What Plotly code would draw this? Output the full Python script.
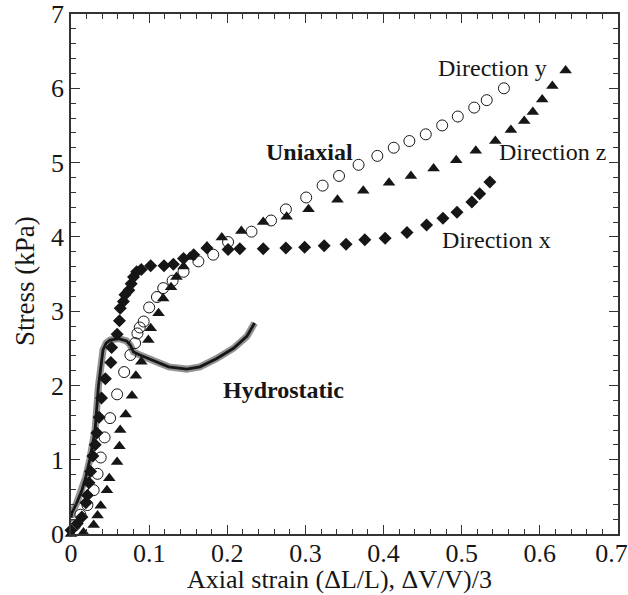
import plotly.graph_objects as go

# Direction x (filled diamonds)
dir_x_strain = [0.0, 0.008, 0.014, 0.019, 0.021, 0.023, 0.025, 0.028, 0.031, 0.033, 0.036, 0.039,
                0.044, 0.051, 0.052, 0.059, 0.062, 0.063, 0.067, 0.069, 0.074, 0.077, 0.080, 0.084,
                0.090, 0.102, 0.119, 0.131, 0.144, 0.157, 0.174, 0.201, 0.216, 0.246, 0.275, 0.299,
                0.324, 0.352, 0.376, 0.402, 0.430, 0.455, 0.476, 0.494, 0.513, 0.523, 0.536]
dir_x_stress = [0.05, 0.14, 0.23, 0.42, 0.52, 0.69, 0.84, 1.05, 1.20, 1.36, 1.57, 1.83,
                2.09, 2.31, 2.51, 2.69, 2.87, 3.04, 3.13, 3.22, 3.28, 3.37, 3.46, 3.53,
                3.56, 3.61, 3.61, 3.63, 3.71, 3.76, 3.85, 3.83, 3.84, 3.84, 3.85, 3.86,
                3.88, 3.90, 3.96, 3.98, 4.06, 4.16, 4.25, 4.33, 4.47, 4.58, 4.74]

# Direction y (open circles)
dir_y_strain = [0.005, 0.012, 0.021, 0.029, 0.034, 0.038, 0.043, 0.050, 0.059, 0.068, 0.076,
                0.082, 0.085, 0.088, 0.093, 0.100, 0.110, 0.118, 0.130, 0.144, 0.163, 0.182,
                0.201, 0.231, 0.256, 0.275, 0.301, 0.322, 0.343, 0.368, 0.392, 0.413, 0.433,
                0.454, 0.475, 0.495, 0.516, 0.532, 0.554]
dir_y_stress = [0.12, 0.26, 0.39, 0.59, 0.81, 1.03, 1.30, 1.56, 1.88, 2.18, 2.41,
                2.57, 2.70, 2.78, 2.86, 3.05, 3.19, 3.31, 3.41, 3.53, 3.67, 3.76,
                3.93, 4.07, 4.22, 4.37, 4.53, 4.69, 4.82, 4.97, 5.09, 5.20, 5.29,
                5.38, 5.50, 5.62, 5.74, 5.84, 6.00]

# Direction z (filled triangles)
dir_z_strain = [0.0, 0.016, 0.029, 0.034, 0.038, 0.046, 0.049, 0.059, 0.062, 0.063, 0.070,
                0.078, 0.083, 0.090, 0.099, 0.102, 0.112, 0.118, 0.128, 0.135, 0.144, 0.152,
                0.174, 0.193, 0.218, 0.246, 0.276, 0.304, 0.341, 0.374, 0.407, 0.435, 0.464,
                0.493, 0.518, 0.543, 0.563, 0.580, 0.591, 0.603, 0.616, 0.633]
dir_z_stress = [0.0, 0.02, 0.12, 0.25, 0.38, 0.59, 0.75, 0.97, 1.18, 1.40, 1.61,
                1.86, 2.13, 2.32, 2.61, 2.77, 2.97, 3.17, 3.32, 3.46, 3.60, 3.73,
                3.87, 3.99, 4.08, 4.20, 4.27, 4.37, 4.50, 4.62, 4.73, 4.82, 4.92,
                5.03, 5.16, 5.29, 5.44, 5.56, 5.68, 5.85, 6.03, 6.24]

# Hydrostatic (dense curve)
hydro_strain = [0.0, 0.001, 0.007, 0.014, 0.019, 0.024, 0.029, 0.031, 0.035, 0.039, 0.041,
                0.045, 0.050, 0.061, 0.071, 0.076, 0.080, 0.088, 0.101, 0.114, 0.125,
                0.148, 0.165, 0.186, 0.208, 0.225, 0.235]
hydro_stress = [0.22, 0.28, 0.41, 0.59, 0.77, 1.00, 1.29, 1.42, 1.98, 2.30, 2.48,
                2.57, 2.61, 2.63, 2.60, 2.54, 2.45, 2.41, 2.35, 2.30, 2.25,
                2.22, 2.25, 2.36, 2.50, 2.66, 2.84]

x_ticks = [0, 0.1, 0.2, 0.3, 0.4, 0.5, 0.6, 0.7]
x_tick_labels = ["0", "0.1", "0.2", "0.3", "0.4", "0.5", "0.6", "0.7\u00a0\u00a0"]
y_ticks = [0, 1, 2, 3, 4, 5, 6, 7]
y_tick_labels = ["0", "1", "2", "3", "4", "5", "6", "7"]

FONT = "Liberation Serif, Times New Roman, serif"
INK = "#161616"

fig = go.Figure()

fig.add_trace(go.Scatter(x=hydro_strain, y=hydro_stress, mode="lines",
                         line=dict(color="rgba(110,110,110,0.75)", width=7),
                         cliponaxis=False, showlegend=False, hoverinfo="skip"))
fig.add_trace(go.Scatter(x=hydro_strain, y=hydro_stress, mode="lines",
                         line=dict(color=INK, width=2.8),
                         cliponaxis=False, showlegend=False))

fig.add_trace(go.Scatter(x=dir_y_strain, y=dir_y_stress, mode="markers",
                         marker=dict(symbol="circle-open", size=11, color=INK,
                                     line=dict(width=1)),
                         cliponaxis=False, showlegend=False))
fig.add_trace(go.Scatter(x=dir_z_strain, y=dir_z_stress, mode="markers",
                         marker=dict(symbol="triangle-up", size=11, color=INK),
                         cliponaxis=False, showlegend=False))
fig.add_trace(go.Scatter(x=dir_x_strain, y=dir_x_stress, mode="markers",
                         marker=dict(symbol="diamond", size=10, color=INK),
                         cliponaxis=False, showlegend=False))

annos = [
    dict(x=0.248, y=5.14, text="<b>Uniaxial</b>"),
    dict(x=0.193, y=1.94, text="<b>Hydrostatic</b>"),
    dict(x=0.468, y=6.27, text="Direction y"),
    dict(x=0.546, y=5.14, text="Direction z"),
    dict(x=0.474, y=3.96, text="Direction x"),
]
for a in annos:
    fig.add_annotation(x=a["x"], y=a["y"], text=a["text"], showarrow=False,
                       xanchor="left", yanchor="middle", borderpad=0,
                       font=dict(family=FONT, size=24, color=INK))

# axis titles placed as paper-anchored text to sit where the reference has them
fig.add_annotation(xref="paper", yref="paper", x=0.49, y=0, yshift=-45,
                   text="Axial strain (ΔL/L), ΔV/V)/3", showarrow=False,
                   xanchor="center", yanchor="middle", borderpad=0,
                   font=dict(family=FONT, size=26, color=INK))
fig.add_annotation(xref="paper", yref="paper", x=0, xshift=-46, y=0.4865,
                   text="Stress (kPa)", textangle=-90, showarrow=False,
                   xanchor="center", yanchor="middle", borderpad=0,
                   font=dict(family=FONT, size=27, color=INK))

axis_common = dict(
    showline=True, linecolor="#333333", linewidth=1.5, mirror="ticks",
    ticks="inside", ticklen=9, tickwidth=1.2, tickcolor="#333333",
    showgrid=False, zeroline=False,
    tickfont=dict(family=FONT, size=26, color=INK),
)

fig.update_xaxes(range=[0, 0.7], tickvals=x_ticks, ticktext=x_tick_labels,
                 ticklabeloverflow="allow", ticklabelstandoff=-5,
                 minor=dict(dtick=0.02, tick0=0, ticks="inside", ticklen=5, tickwidth=1.2, tickcolor="#333333"),
                 **axis_common)
fig.update_yaxes(range=[0, 7], tickvals=y_ticks, ticktext=y_tick_labels,
                 ticklabeloverflow="allow",
                 minor=dict(dtick=0.2, tick0=0, ticks="inside", ticklen=5, tickwidth=1.2, tickcolor="#333333"),
                 **axis_common)

fig.update_layout(width=628, height=595, margin=dict(l=71, r=10, t=14, b=61, autoexpand=False),
                  plot_bgcolor="white", paper_bgcolor="white", showlegend=False)

# remove the page's default 8px body margin so the figure sits at the window origin
fig.write_html("out.html", config={"displayModeBar": False},
               post_script="document.body.style.margin='0';")
